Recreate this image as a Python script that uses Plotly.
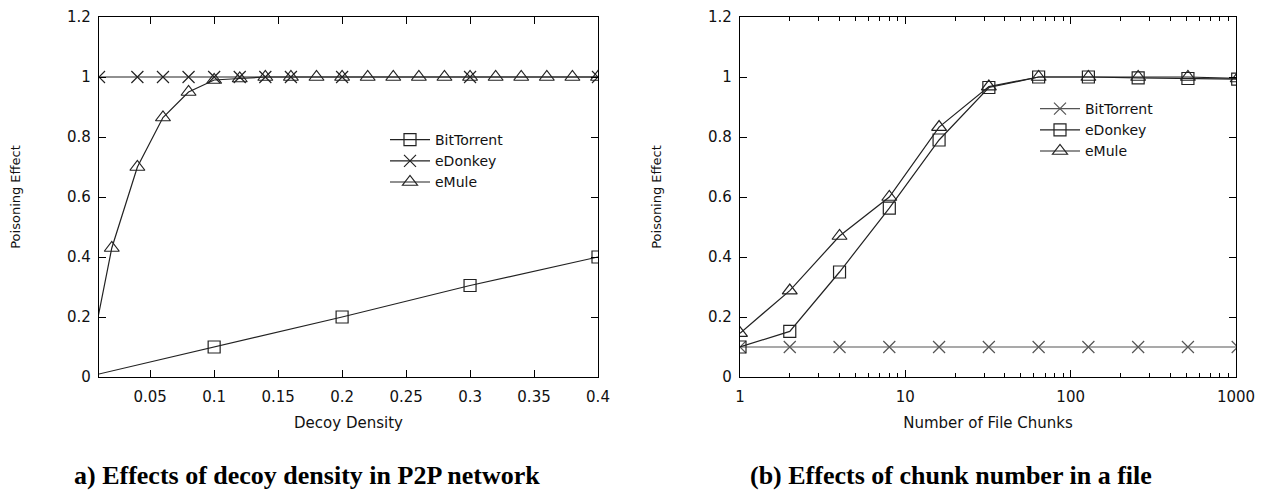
import plotly.graph_objects as go

# ---- Data: (a) decoy density ----
a_bt_x = [0.0, 0.1, 0.2, 0.3, 0.4]
a_bt_y = [0.0, 0.1, 0.2, 0.305, 0.4]
a_ed_x = [0.01, 0.04, 0.06, 0.08, 0.1, 0.12, 0.14, 0.16, 0.2, 0.3, 0.4]
a_ed_y = [1, 1, 1, 1, 1, 1, 1, 1, 1, 1, 1]
a_em_x = [0.0, 0.02, 0.04, 0.06, 0.08, 0.1, 0.12, 0.14, 0.16, 0.18, 0.2,
          0.22, 0.24, 0.26, 0.28, 0.3, 0.32, 0.34, 0.36, 0.38, 0.4]
a_em_y = [0.0, 0.43, 0.70, 0.865, 0.95, 0.99, 0.995, 1, 1, 1, 1,
          1, 1, 1, 1, 1, 1, 1, 1, 1, 1]

# ---- Data: (b) chunk number ----
b_x = [1, 2, 4, 8, 16, 32, 64, 128, 256, 512, 1024]
b_bt_y = [0.1, 0.1, 0.1, 0.1, 0.1, 0.1, 0.1, 0.1, 0.1, 0.1, 0.1]
b_ed_y = [0.1, 0.152, 0.35, 0.563, 0.79, 0.965, 1.0, 1.0, 0.997, 0.995, 0.993]
b_em_y = [0.146, 0.288, 0.47, 0.60, 0.833, 0.968, 1.0, 1.0, 1.0, 1.0, 0.995]

y_ticks = [0, 0.2, 0.4, 0.6, 0.8, 1.0, 1.2]
a_x_ticks = [0.05, 0.1, 0.15, 0.2, 0.25, 0.3, 0.35, 0.4]
a_x_labels = ["0.05", "0.1", "0.15", "0.2", "0.25", "0.3", "0.35", "0.4"]
b_x_ticks = [1, 10, 100, 1000]
b_x_labels = ["1", "10", "100", "1000"]

FONT = "DejaVu Sans"
LINE = "#222222"

fig = go.Figure()

def add(x, y, name, symbol, size, xa, ya, legend, color=LINE):
    fig.add_trace(go.Scatter(
        x=x, y=y, name=name, mode="lines+markers",
        line=dict(color=color, width=1.2),
        marker=dict(symbol=symbol, size=size, color=color,
                    line=dict(color=color, width=1.2)),
        xaxis=xa, yaxis=ya, legend=legend))

add(a_bt_x, a_bt_y, "BitTorrent", "square-open", 12, "x", "y", "legend")
add(a_ed_x, a_ed_y, "eDonkey", "x-thin-open", 12, "x", "y", "legend")
add(a_em_x, a_em_y, "eMule", "triangle-up-open", 13, "x", "y", "legend")

add(b_x, b_bt_y, "BitTorrent", "x-thin-open", 12, "x2", "y2", "legend2", color="#555555")
add(b_x, b_ed_y, "eDonkey", "square-open", 12, "x2", "y2", "legend2")
add(b_x, b_em_y, "eMule", "triangle-up-open", 13, "x2", "y2", "legend2")

W, H = 1261, 492
top_px, bot_px = 17, 377
ydom = [(H - bot_px) / H, (H - top_px) / H]

axis_common = dict(
    showline=True, linecolor="#000000", linewidth=1.2, mirror="ticks",
    ticks="inside", ticklen=7, tickcolor="#000000", tickwidth=1,
    showgrid=False, zeroline=False, automargin=False,
    ticklabeloverflow="allow",
    tickfont=dict(family=FONT, size=15, color="#111111"),
)

xtitle_font = dict(family=FONT, size=15, color="#111111")
ytitle_font = dict(family=FONT, size=13, color="#111111")

fig.update_layout(
    width=W, height=H,
    margin=dict(l=0, r=0, t=0, b=0),
    paper_bgcolor="white", plot_bgcolor="white",
    font=dict(family=FONT, size=15, color="#111111"),
    xaxis=dict(domain=[99 / W, 598 / W], range=[0.01, 0.4],
               tickvals=a_x_ticks, ticktext=a_x_labels, ticklabelstandoff=6,
               title=dict(text="Decoy Density", font=xtitle_font, standoff=12),
               anchor="y", **axis_common),
    yaxis=dict(domain=ydom, range=[0, 1.2], tickvals=y_ticks, ticklabelstandoff=4,
               title=dict(text="Poisoning Effect", font=ytitle_font, standoff=43),
               anchor="x", **axis_common),
    xaxis2=dict(domain=[740 / W, 1236 / W], type="log", range=[0, 3],
                tickvals=b_x_ticks, ticktext=b_x_labels, ticklabelstandoff=6,
                minor=dict(ticks="inside", ticklen=4, tickcolor="#000000",
                           dtick="D1", showgrid=False),
                title=dict(text="Number of File Chunks", font=xtitle_font, standoff=12),
                anchor="y2", **axis_common),
    yaxis2=dict(domain=ydom, range=[0, 1.2], tickvals=y_ticks, ticklabelstandoff=4,
                title=dict(text="Poisoning Effect", font=ytitle_font, standoff=43),
                anchor="x2", **axis_common),
    legend=dict(x=385 / W, y=1 - 124 / H, xanchor="left", yanchor="top",
                bgcolor="rgba(0,0,0,0)", font=dict(family=FONT, size=14),
                tracegroupgap=0, itemwidth=40),
    legend2=dict(x=1035 / W, y=1 - 93 / H, xanchor="left", yanchor="top",
                 bgcolor="rgba(0,0,0,0)", font=dict(family=FONT, size=14),
                 tracegroupgap=0, itemwidth=40),
    showlegend=True,
)

fig.add_annotation(text="<b>a) Effects of decoy density in P2P network</b>",
                   x=307 / W, y=0, xref="paper", yref="paper",
                   showarrow=False, xanchor="center", yanchor="bottom",
                   font=dict(family="Liberation Serif", size=26, color="#000000"))
fig.add_annotation(text="<b>(b) Effects of chunk number in a file</b>",
                   x=951 / W, y=0, xref="paper", yref="paper",
                   showarrow=False, xanchor="center", yanchor="bottom",
                   font=dict(family="Liberation Serif", size=26, color="#000000"))

fig.write_html("out.html",
               config={"displayModeBar": False},
               post_script="document.body.style.margin='0px';")
